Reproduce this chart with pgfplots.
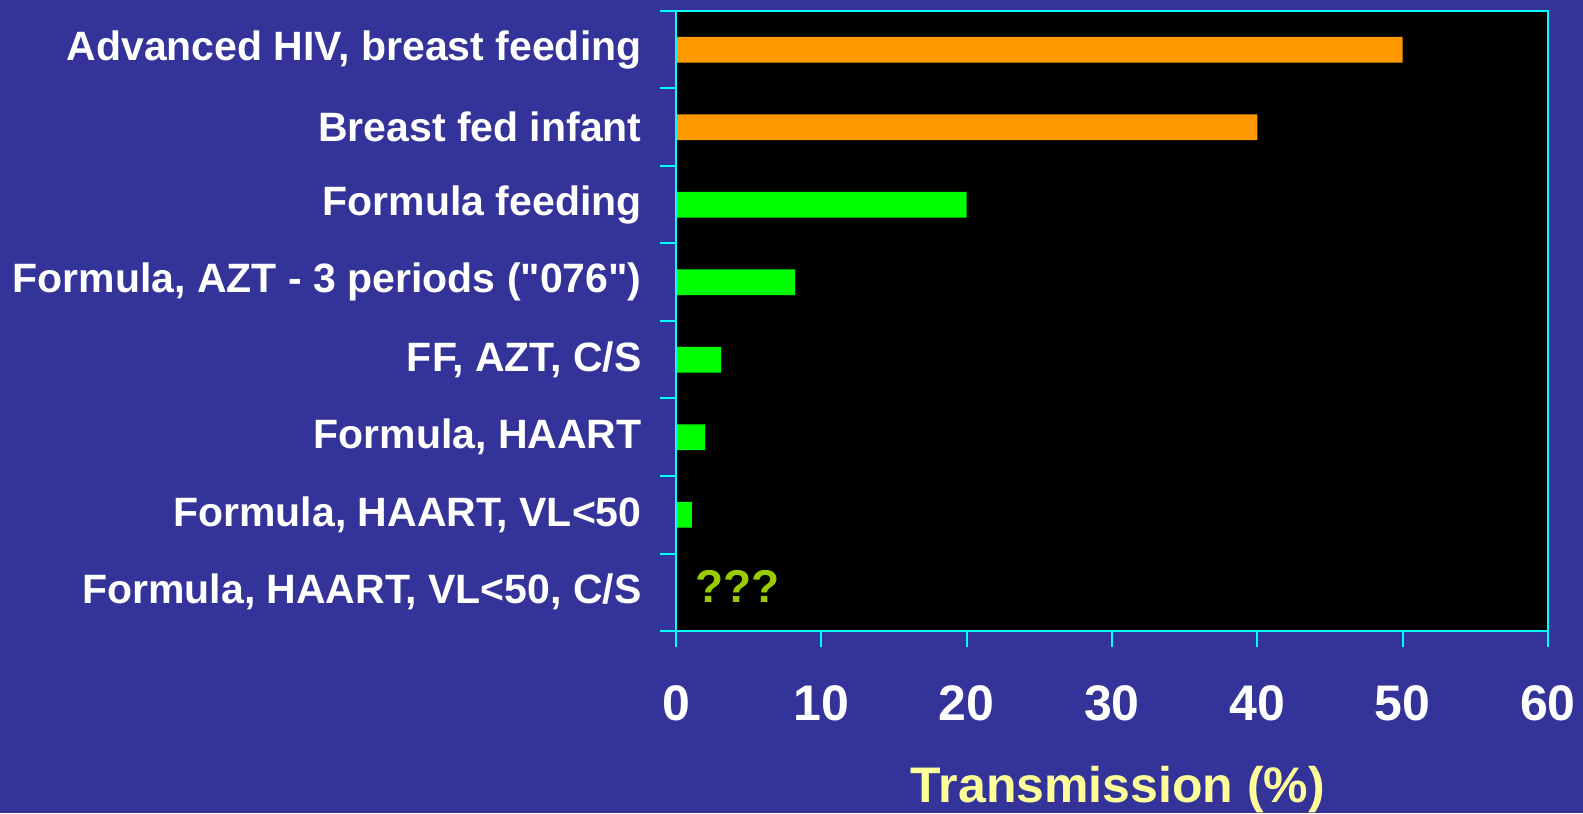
\documentclass[border=0pt]{standalone}
\usepackage{pgfplots}
\pgfplotsset{compat=1.18}
\usepackage{fontspec}
\setmainfont{Liberation Sans}
\newfontfamily\qfont{Liberation Sans}
\definecolor{bg}{HTML}{333399}
\definecolor{axcyan}{HTML}{00FFFF}
\definecolor{barorange}{HTML}{FF9900}
\definecolor{bargreen}{HTML}{00FF00}
\definecolor{qmark}{HTML}{99CC00}
\definecolor{labyellow}{HTML}{FFFF99}
\begin{document}
\begin{tikzpicture}
% slide background, 1px = 0.5pt
\path[fill=bg, use as bounding box] (-338pt,-91pt) rectangle (453.5pt,315.5pt);
\begin{axis}[
  at={(0,0)}, anchor=south west,
  width=436pt, height=310pt, scale only axis,
  xmin=0, xmax=60, ymin=-0.5, ymax=7.5,
  axis background/.style={fill=black},
  axis on top,
  axis line style={axcyan, line width=1.35pt},
  tick style={axcyan, line width=1pt},
  tick pos=left, tick align=outside,
  major tick length=8pt,
  xtick={0,10,...,60},
  xticklabels={0,10,20,30,40,50,60},
  xticklabel style={font=\fontsize{25pt}{30pt}\selectfont\bfseries, text=white,
    inner sep=0pt, anchor=north, yshift=-19pt},
  ytick={-0.5,0.5,...,7.5},
  yticklabels={,,,,,,,,,},
  extra y ticks={0,1,2,3,4,5,6,7},
  extra y tick labels={{Formula, HAART, VL<50, C/S},{Formula, HAART, VL<50},{Formula, HAART},{FF, AZT, C/S},{Formula, AZT - 3 periods ({\qfont"}076{\qfont"})},{Formula feeding},{Breast fed infant},{Advanced HIV, breast feeding}},
  extra y tick style={major tick length=0pt,
    yticklabel style={font=\fontsize{20.5pt}{24pt}\selectfont\bfseries, text=white,
      inner sep=0pt, anchor=east, xshift=-17pt}},
  xlabel={Transmission (\%)},
  xlabel style={at={(axis description cs:0.5,0)}, anchor=north, inner sep=0pt,
    yshift=-67.5pt, xshift=3pt,
    font=\fontsize{25pt}{30pt}\selectfont\bfseries, text=labyellow},
]
\addplot[xbar, bar width=0.335, bar shift=0pt, fill=barorange, draw=none]
  coordinates {(50,7) (40,6)};
\addplot[xbar, bar width=0.335, bar shift=0pt, fill=bargreen, draw=none]
  coordinates {(20,5) (8.2,4) (3.1,3) (2,2) (1.1,1)};
\node[anchor=west, inner sep=0pt, text=qmark, yshift=3pt,
  font=\fontsize{23pt}{28pt}\selectfont\bfseries] at (axis cs:1.3,0) {???};
\end{axis}
\end{tikzpicture}
\end{document}
